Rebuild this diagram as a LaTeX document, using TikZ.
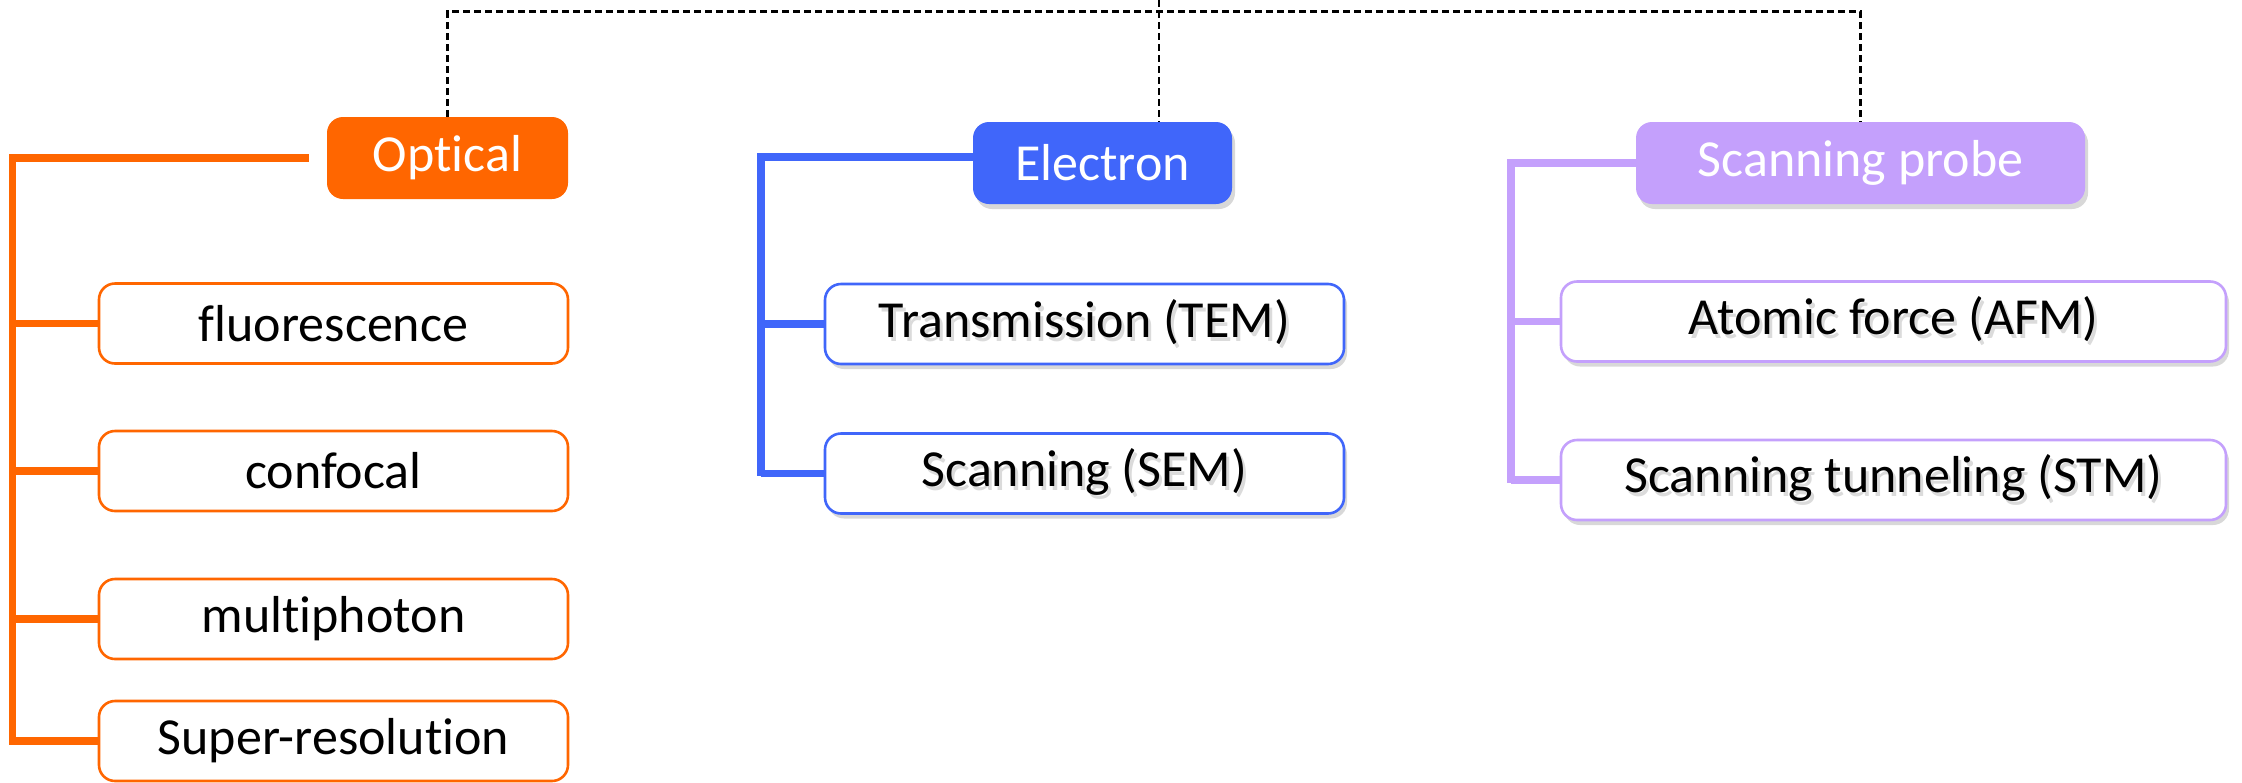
\documentclass[tikz,border=0pt]{standalone}
\usepackage{fontspec}
\setmainfont{Carlito}[Ligatures={NoCommon}]
\usetikzlibrary{shadows,backgrounds}
\definecolor{orng}{HTML}{FF6600}
\definecolor{blu}{HTML}{4066FA}
\definecolor{purp}{HTML}{C4A0FC}
\newcommand\txtshd[1]{\makebox[0pt][l]{\kern1.5pt\raisebox{-2pt}{\color{black!14}#1}}#1}
\tikzset{
  basebox/.style={rounded corners=8pt, align=center, inner sep=0pt, font=\fontsize{26}{30}\selectfont},
  head/.style={basebox, fill=#1, text=white, minimum height=41pt},
  child/.style={basebox, draw=#1, line width=1.3pt, fill=white, minimum height=40pt},
  shd/.style={drop shadow={opacity=0.3, shadow xshift=1.5pt, shadow yshift=-2.5pt}},
  spine/.style={draw=#1, line width=3.7pt},
  lshadow/.style={draw=black, opacity=0.2, line width=3.7pt, xshift=1.5pt, yshift=-2.5pt},
  dashline/.style={dash pattern=on 3.5pt off 2pt, line width=1.2pt, draw=black},
}
\begin{document}
\begin{tikzpicture}[x=0.5pt,y=-0.5pt]
\useasboundingbox (0,0) rectangle (2242,782);
% heads and children
\node[head=orng, minimum width=120.5pt] (opt) at (447.5,158) {Optical};
\node[child=orng, minimum width=234.5pt] (fl) at (333.5,323.5) {fluorescence};
\node[child=orng, minimum width=234.5pt] (cf) at (333.5,471) {confocal};
\node[child=orng, minimum width=234.5pt] (mp) at (333.5,619) {multiphoton};
\node[child=orng, minimum width=234.5pt] (sr) at (333.5,741) {Super-resolution};

\node[head=blu, shd, minimum width=129.5pt] (elec) at (1102.5,163) {Electron};
\node[child=blu, shd, minimum width=259.5pt] (tem) at (1084.5,324) {\txtshd{Transmission (TEM)}};
\node[child=blu, shd, minimum width=259.5pt] (sem) at (1084.5,473.5) {\txtshd{Scanning (SEM)}};

\node[head=purp, shd, minimum width=224.5pt] (sp) at (1860.5,163) {Scanning probe};
\node[child=purp, shd, minimum width=332.5pt] (afm) at (1893.5,321.5) {\txtshd{Atomic force (AFM)}};
\node[child=purp, shd, minimum width=332.5pt] (stm) at (1893.5,480) {\txtshd{Scanning tunneling (STM)}};

% coordinates
\coordinate (oe) at ([xshift=-9pt]opt.west);
\coordinate (ob) at (12.5,745);
\coordinate (bb) at (761,476);
\coordinate (pb) at (1511,483);
\coordinate (dl) at (448,11.5);
\coordinate (dm) at (1159,0);

\begin{pgfonlayer}{background}
\fill[white] (0,0) rectangle (2242,782);
% orange bracket
\draw[spine=orng] (oe) -| (ob);
\foreach \n in {fl,cf,mp,sr} \draw[spine=orng] (ob |- \n.west) -- (\n.west);
% blue bracket
\draw[lshadow] ([yshift=3pt]elec.west) -| (bb);
\foreach \n in {tem,sem} \draw[lshadow] (bb |- \n.west) -- (\n.west);
\draw[spine=blu] ([yshift=3pt]elec.west) -| (bb);
\foreach \n in {tem,sem} \draw[spine=blu] (bb |- \n.west) -- (\n.west);
% purple bracket
\draw[lshadow] (sp.west) -| (pb);
\foreach \n in {afm,stm} \draw[lshadow] (pb |- \n.west) -- (\n.west);
\draw[spine=purp] (sp.west) -| (pb);
\foreach \n in {afm,stm} \draw[spine=purp] (pb |- \n.west) -- (\n.west);
\end{pgfonlayer}

% dashed tree
\draw[dashline] (opt.north) -- (opt.north |- dl) -- (sp.north |- dl) -- (sp.north);
\draw[dashline] (dm) -- (dm |- elec.north);
\end{tikzpicture}
\end{document}
